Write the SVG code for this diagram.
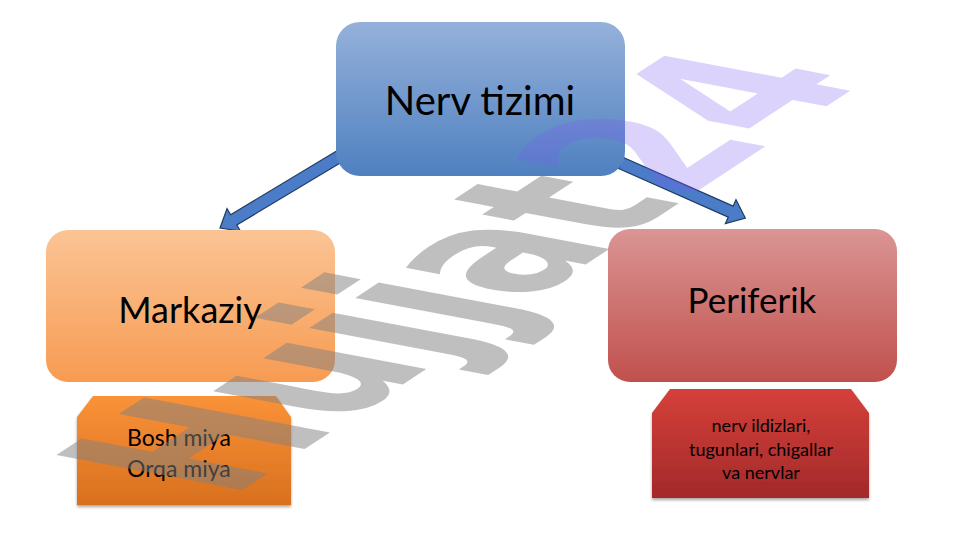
<svg xmlns="http://www.w3.org/2000/svg" width="961" height="540" viewBox="0 0 961 540">
  <defs>
    <linearGradient id="gBlue" x1="0" y1="0" x2="0" y2="1">
      <stop offset="0" stop-color="#95b1da"/>
      <stop offset="1" stop-color="#4f80c0"/>
    </linearGradient>
    <linearGradient id="gOrange" x1="0" y1="0" x2="0" y2="1">
      <stop offset="0" stop-color="#fbc495"/>
      <stop offset="1" stop-color="#f79b52"/>
    </linearGradient>
    <linearGradient id="gRed" x1="0" y1="0" x2="0" y2="1">
      <stop offset="0" stop-color="#da9594"/>
      <stop offset="1" stop-color="#c0504d"/>
    </linearGradient>
    <linearGradient id="gOrange2" x1="0" y1="0" x2="0" y2="1">
      <stop offset="0" stop-color="#fa9239"/>
      <stop offset="1" stop-color="#d8701e"/>
    </linearGradient>
    <linearGradient id="gRed2" x1="0" y1="0" x2="0" y2="1">
      <stop offset="0" stop-color="#d5403a"/>
      <stop offset="1" stop-color="#a3292a"/>
    </linearGradient>
    <filter id="shadow" x="-10%" y="-10%" width="120%" height="130%">
      <feDropShadow dx="0" dy="2" stdDeviation="1.5" flood-color="#000" flood-opacity="0.35"/>
    </filter>
    <style>
      .lbl { font-family: Lato, "Open Sans", "Liberation Sans", sans-serif; fill: #000; text-anchor: middle; }
      .lbl-l { font-family: Lato, "Open Sans", "Liberation Sans", sans-serif; fill: #000; text-anchor: start; }
      .arrow { fill: #4a7cc8; stroke: #1f3a64; stroke-width: 1.2; stroke-linejoin: miter; }
      .wm { font-family: "DejaVu Sans", "Liberation Sans", sans-serif; font-weight: bold; font-size: 100px; }
    </style>
  </defs>

  <rect x="0" y="0" width="961" height="540" fill="#ffffff"/>

  <g id="connectors">
    <polygon class="arrow" transform="translate(340,156) rotate(149)" points="0,-6 124,-6 124,-13 140,0 124,13 124,6 0,6"/>
    <polygon class="arrow" transform="translate(621,163) rotate(23.9)" points="0,-6 120,-6 120,-13 136,0 120,13 120,6 0,6"/>
  </g>

  <g id="node-nerv-tizimi">
    <rect x="336" y="22" width="289" height="154" rx="24" ry="24" fill="url(#gBlue)"/>
    <text class="lbl" x="480" y="115" font-size="40">Nerv tizimi</text>
  </g>

  <g id="node-markaziy">
    <rect x="46" y="230" width="289" height="152" rx="22" ry="22" fill="url(#gOrange)"/>
    <text class="lbl" x="190" y="323" font-size="36">Markaziy</text>
  </g>

  <g id="node-periferik">
    <rect x="608" y="229" width="289" height="153" rx="22" ry="22" fill="url(#gRed)"/>
    <text class="lbl" x="752" y="313" font-size="35">Periferik</text>
  </g>

  <g id="node-bosh-miya">
    <polygon points="93,396 276,396 291,417 291,505 77,505 77,417" fill="url(#gOrange2)" filter="url(#shadow)"/>
    <text class="lbl-l" x="127" y="446" font-size="23">Bosh miya</text>
    <text class="lbl-l" x="127" y="477" font-size="23">Orqa miya</text>
  </g>

  <g id="node-nerv-ildizlari">
    <polygon points="670,389 851,389 869,413 869,498 652,498 652,413" fill="url(#gRed2)" filter="url(#shadow)"/>
    <text class="lbl" x="761" y="432" font-size="18">nerv ildizlari,</text>
    <text class="lbl" x="761" y="456" font-size="18">tugunlari, chigallar</text>
    <text class="lbl" x="761" y="479" font-size="18">va nervlar</text>
  </g>

  <g id="watermark">
    <text class="wm" transform="matrix(1.34,-0.88,2.55,0.48,230,498)" x="0" y="0"><tspan fill="#808080" fill-opacity="0.5">Hujjat</tspan><tspan fill="#7b5cf0" fill-opacity="0.27">24</tspan></text>
  </g>
</svg>
